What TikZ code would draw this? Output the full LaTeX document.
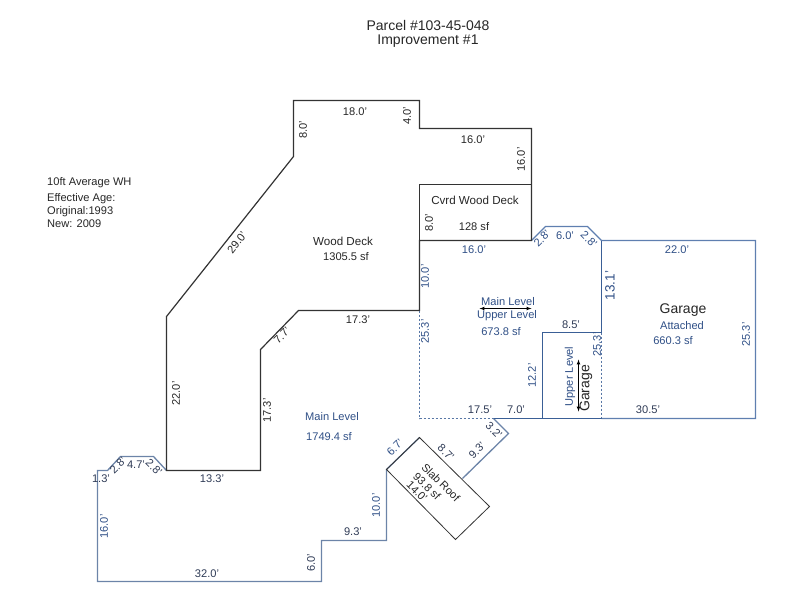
\documentclass[tikz,border=0pt]{standalone}
\usepackage{fontspec}
\setmainfont{Liberation Sans}
\definecolor{planblue}{HTML}{2F4F86}
\definecolor{darkwall}{HTML}{3A5F96}
\definecolor{wallblue}{HTML}{5F7FB0}
\definecolor{mainblue}{HTML}{6C84A8}
\definecolor{slate}{HTML}{2E3A55}
\tikzset{
  lbl/.style={font=\fontsize{11.1}{12}\selectfont,inner sep=0pt,text=black!85},
  blbl/.style={lbl,text=planblue},
  slbl/.style={lbl,text=slate},
  widelbl/.style={lbl,font=\fontsize{11.6}{12}\selectfont},
  biglbl/.style={font=\fontsize{14}{16}\selectfont,inner sep=0pt,text=black!85},
  titlelbl/.style={lbl,font=\fontsize{14}{16}\selectfont},
  deck/.style={draw=black!80,line width=1.2pt},
  mainwall/.style={draw=mainblue,line width=1.3pt},
  upperwall/.style={draw=wallblue,line width=1.2pt},
  innerwall/.style={draw=darkwall,line width=1.1pt},
  dotwall/.style={draw=darkwall!85,line width=1.4pt,dash pattern=on 2pt off 2pt},
  slab/.style={draw=black!80,line width=.8pt},
  levelarrow/.style={latex-latex,line width=.7pt,black},
}
\begin{document}
\begin{tikzpicture}[x=1pt,y=-1pt]
  \useasboundingbox (0,0) rectangle (800,600);
  \begin{scope}[shift={(.5,.5)}]
  % main level
  \draw[mainwall] (166,470) -- (153,456) -- (120,456) -- (107,470) -- (97,470) -- (97,581)
    -- (321,581) -- (321,540) -- (386,540) -- (386,469) -- (419,437);
  \draw[mainwall] (462,478) -- (508,433) -- (493,418);
  % upper level and garage
  \draw[dotwall] (419,310) -- (419,418) -- (493,418);
  \draw[dotwall] (601,332) -- (601,418);
  \draw[upperwall] (601,418) -- (755,418) -- (755,240) -- (601,240) -- (587,226) -- (545,226) -- (531,240);
  \draw[innerwall] (601,240) -- (601,332) -- (542,332) -- (542,418);
  \draw[innerwall] (493,418) -- (601,418);
  % decks
  \draw[deck] (293,100) -- (419,100) -- (419,128) -- (531,128) -- (531,240) -- (419,240) -- (419,310)
    -- (298,310) -- (260,349) -- (260,470) -- (166,470) -- (166,316) -- (293,156) -- cycle;
  \draw[deck] (419,240) -- (419,184) -- (531,184);
  \draw[slab] (386,469) -- (419,437) -- (489,506) -- (455,539) -- cycle;
  % level arrows
  \draw[levelarrow] (479,308) -- (531,308);
  \draw[levelarrow] (578,359) -- (578,411);
  \end{scope}
  \begin{scope}[shift={(0,1.5)}]
  % title and notes
  \node[titlelbl] (title1) at (428,24) {Parcel \#103-45-048};
  \node[titlelbl] (title2) at (428,40) {Improvement \#1};
  \node[lbl,anchor=west] (note1) at (47,181) {10ft Average WH};
  \node[lbl,anchor=west] (note2) at (47,197) {Effective Age:};
  \node[lbl,anchor=west] (note3) at (47,210) {Original:1993};
  \node[lbl,anchor=west] (note4) at (47,222) {New: 2009};
  % deck labels
  \node[lbl] (l1) at (355,110) {18.0'};
  \node[lbl,rotate=90] (l2) at (303,128) {8.0'};
  \node[lbl,rotate=90] (l3) at (407,114) {4.0'};
  \node[lbl] (l4) at (473,138) {16.0'};
  \node[lbl,rotate=90] (l5) at (521,158) {16.0'};
  \node[widelbl] (cvrd) at (475,199) {Cvrd Wood Deck};
  \node[lbl] (cvrdsf) at (474,225) {128 sf};
  \node[lbl,rotate=90] (l6) at (429,221) {8.0'};
  \node[widelbl] (deckname) at (343,240) {Wood Deck};
  \node[lbl] (decksf) at (346,255) {1305.5 sf};
  \node[lbl,rotate=52] (l7) at (237,241) {29.0'};
  \node[lbl,rotate=90] (l8) at (176,392) {22.0'};
  \node[slbl] (l9) at (212,477) {13.3'};
  \node[lbl,rotate=90] (l10) at (267,409) {17.3'};
  \node[lbl,rotate=45] (l11) at (282,334) {7.7'};
  \node[lbl] (l12) at (358,318) {17.3'};
  % upper level labels
  \node[blbl] (l13) at (474,248) {16.0'};
  \node[blbl,rotate=90] (l14) at (425,275) {10.0'};
  \node[blbl,rotate=90] (l15) at (425,330) {25.3'};
  \node[blbl,rotate=45] (l16) at (542,237) {2.8'};
  \node[blbl] (l17) at (565,234) {6.0'};
  \node[blbl,rotate=-45] (l18) at (589,238) {2.8'};
  \node[blbl] (mainname) at (508,300) {Main Level};
  \node[blbl] (uppername) at (507,314) {Upper Level};
  \node[blbl] (uppersf) at (501,330) {673.8 sf};
  \node[blbl,rotate=90,font=\fontsize{13.5}{14}\selectfont] (l19) at (610,284) {13.1'};
  \node[slbl] (l20) at (571,323) {8.5'};
  \node[blbl,rotate=90] (l21) at (532,374) {12.2'};
  \node[blbl,rotate=90] (l22) at (597,343) {25.3'};
  \node[blbl,rotate=90] (vupper) at (570,375) {Upper Level};
  \node[biglbl,rotate=90] (vgarage) at (586,387) {Garage};
  \node[slbl] (l23) at (480,408) {17.5'};
  \node[slbl] (l24) at (516,408) {7.0'};
  % garage labels
  \node[blbl] (l25) at (677,248) {22.0'};
  \node[biglbl] (garage) at (683,309) {Garage};
  \node[blbl] (attached) at (682,324) {Attached};
  \node[blbl] (garagesf) at (673,339) {660.3 sf};
  \node[blbl,rotate=90] (l26) at (746,333) {25.3'};
  \node[slbl] (l27) at (648,408) {30.5'};
  % main level labels
  \node[blbl] (mainlow) at (332,415) {Main Level};
  \node[blbl] (mainsf) at (329,435) {1749.4 sf};
  \node[slbl] (l28) at (101,477) {1.3'};
  \node[slbl,rotate=45] (l29) at (118,464) {2.8'};
  \node[slbl] (l30) at (136,463) {4.7'};
  \node[slbl,rotate=-45] (l31) at (154,466) {2.8'};
  \node[blbl,rotate=90] (l32) at (104,525) {16.0'};
  \node[slbl] (l33) at (207,572) {32.0'};
  \node[slbl,rotate=90] (l34) at (311,561) {6.0'};
  \node[slbl] (l35) at (353,530) {9.3'};
  \node[blbl,rotate=90] (l36) at (376,504) {10.0'};
  \node[blbl,rotate=45] (l37) at (395,446) {6.7'};
  \node[slbl,rotate=-45] (l38) at (446,451) {8.7'};
  \node[slbl,rotate=45] (l39) at (477,449) {9.3'};
  \node[slbl,rotate=-45] (l40) at (494,429) {3.2'};
  % slab labels
  \node[lbl,rotate=-45] (slabname) at (441,481) {Slab Roof};
  \node[lbl,rotate=-45] (slabsf) at (427,485) {93.8 sf};
  \node[lbl,rotate=-45] (slabw) at (417,490) {14.0'};
  \end{scope}
\end{tikzpicture}
\end{document}
